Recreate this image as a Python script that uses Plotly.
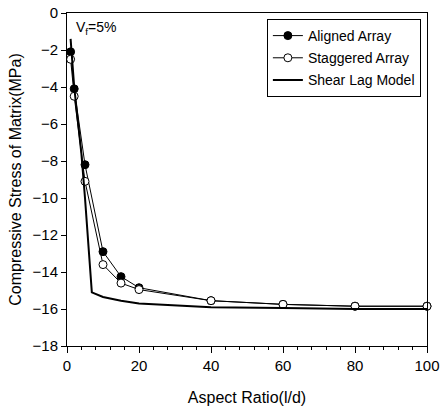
import plotly.graph_objects as go

aspect = [1, 2, 5, 10, 15, 20, 40, 60, 80, 100]
aligned = [-2.1, -4.1, -8.2, -12.9, -14.25, -14.85, -15.55, -15.75, -15.85, -15.85]
staggered = [-2.5, -4.5, -9.1, -13.6, -14.6, -14.95, -15.55, -15.75, -15.85, -15.85]

shear_x = [1, 2, 3, 4, 5, 6, 6.9, 10, 15, 20, 30, 40, 60, 80, 100]
shear_y = [-1.4, -4.0, -5.8, -7.6, -10.0, -12.8, -15.1, -15.35, -15.55, -15.7, -15.8, -15.9, -15.95, -16.0, -16.0]

FONT = "Liberation Sans, Arial, sans-serif"

fig = go.Figure()
fig.add_trace(go.Scatter(x=aspect, y=aligned, mode="lines+markers", name="Aligned Array",
                         legendgroup="a", cliponaxis=False,
                         line=dict(color="black", width=1),
                         marker=dict(symbol="circle", size=8, color="black",
                                     line=dict(color="black", width=1))))
fig.add_trace(go.Scatter(x=aspect, y=staggered, mode="lines+markers", name="Staggered Array",
                         legendgroup="b", cliponaxis=False,
                         line=dict(color="black", width=1),
                         marker=dict(symbol="circle", size=8, color="white",
                                     line=dict(color="black", width=1))))
fig.add_trace(go.Scatter(x=shear_x, y=shear_y, mode="lines", name="Shear Lag Model",
                         legendgroup="c",
                         line=dict(color="black", width=2)))

fig.add_annotation(x=2, y=-0.2, xref="x", yref="y", text="V<sub>f</sub>=5%",
                   showarrow=False, xanchor="left", yanchor="top",
                   font=dict(family=FONT, size=14, color="black"))

fig.update_layout(
    width=440, height=414,
    margin=dict(l=67, r=13, t=13, b=68, autoexpand=False),
    paper_bgcolor="white", plot_bgcolor="white",
    font=dict(family=FONT, size=14, color="black"),
    legend=dict(x=0.983, y=0.982, xanchor="right", yanchor="top",
                bgcolor="white", bordercolor="black", borderwidth=1,
                font=dict(family=FONT, size=14, color="black"),
                tracegroupgap=1, itemwidth=30),
    showlegend=True,
)
fig.update_xaxes(range=[0, 100], dtick=20, tick0=0, ticks="outside", ticklen=6,
                 tickcolor="black", showline=True, linecolor="black", linewidth=1,
                 mirror=True, showgrid=False, zeroline=False, automargin=False,
                 minor=dict(dtick=4, ticks="outside", ticklen=3, tickcolor="black"),
                 title=dict(text="Aspect Ratio(l/d)", font=dict(family=FONT, size=16), standoff=18),
                 tickfont=dict(family=FONT, size=15))
fig.update_yaxes(range=[-18, 0], dtick=2, ticks="outside", ticklen=5,
                 tickcolor="black", showline=True, linecolor="black", linewidth=1,
                 mirror=True, showgrid=False, zeroline=False, automargin=False,
                 title=dict(text="Compressive Stress of Matrix(MPa)", font=dict(family=FONT, size=16), standoff=6),
                 tickfont=dict(family=FONT, size=15))

fig.write_html("out.html", config={"displayModeBar": False},
               post_script="document.body.style.margin='0px';document.body.style.overflow='hidden';")
